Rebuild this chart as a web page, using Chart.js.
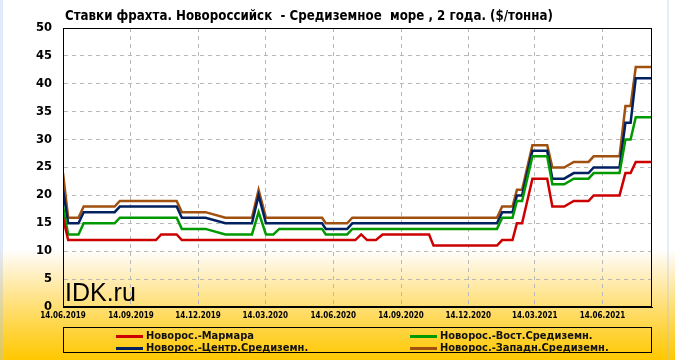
<!DOCTYPE html>
<html><head><meta charset="utf-8">
<script src="https://cdn.jsdelivr.net/npm/chart.js@4.4.1/dist/chart.umd.min.js"></script>
<style>
html,body{margin:0;padding:0;}
body{width:675px;height:360px;position:relative;overflow:hidden;
background:linear-gradient(to bottom,#ffffff 0px,#ffffff 250px,#fff4d6 266px,#ffe592 294px,#ffd64a 325px,#ffc800 360px);}
#lstrip{position:absolute;left:0;top:0;width:3px;height:360px;background:rgba(170,195,235,0.35);}
#rstrip{position:absolute;left:667px;top:0;width:2px;height:360px;background:rgba(170,195,235,0.3);}
#c{position:absolute;left:0;top:0;}
#title{position:absolute;left:65px;top:8px;font:bold 13.2px/16px "DejaVu Sans Condensed","DejaVu Sans",sans-serif;color:#000;white-space:pre;}
#wm{position:absolute;left:65px;top:280px;font:25px/25px "Liberation Sans",Arial,sans-serif;color:#000;}
#legend{position:absolute;left:63px;top:327px;width:589px;height:26px;box-sizing:border-box;border:1px solid #000;}
.li{position:absolute;height:12px;font:bold 11px/12px "DejaVu Sans Condensed","DejaVu Sans",sans-serif;color:#111;white-space:nowrap;}
.li i{position:absolute;left:0;top:5px;width:27px;height:3px;}
.li span{position:absolute;left:30px;top:0;}
</style>
</head><body>
<div id="lstrip"></div><div id="rstrip"></div>
<canvas id="c" width="675" height="360"></canvas>
<div id="title"></div>
<div id="wm">IDK.ru</div>
<div id="legend"></div>
<script>
const chartTitle = 'Ставки фрахта. Новороссийск  - Средиземное  море , 2 года. ($/тонна)';
const dates = ['14.06.2019','21.06.2019','05.07.2019','12.07.2019','23.08.2019','30.08.2019','18.10.2019','25.10.2019','15.11.2019','22.11.2019','24.12.2019','20.01.2020','25.02.2020','05.03.2020','15.03.2020','25.03.2020','02.04.2020','30.05.2020','04.06.2020','03.07.2020','10.07.2020','14.07.2020','22.07.2020','30.07.2020','11.08.2020','20.08.2020','22.10.2020','28.10.2020','22.01.2021','29.01.2021','12.02.2021','18.02.2021','25.02.2021','11.03.2021','31.03.2021','07.04.2021','23.04.2021','06.05.2021','26.05.2021','02.06.2021','07.07.2021','15.07.2021','22.07.2021','29.07.2021','19.08.2021'];
const marmara  = [16,12,12,12,12,12,12,13,13,12,12,12,12,12,12,12,12,12,12,12,12,12,13,12,12,13,13,11,11,12,12,15,15,23,23,18,18,19,19,20,20,24,24,26,26];
const vostMed  = [18,13,13,15,15,16,16,16,16,14,14,13,13,17,13,13,14,14,13,13,14,14,14,14,14,14,14,14,14,16,16,19,19,27,27,22,22,23,23,24,24,30,30,34,34];
const centrMed = [21,15,15,17,17,18,18,18,18,16,16,15,15,20,15,15,15,15,14,14,15,15,15,15,15,15,15,15,15,17,17,20,20,28,28,23,23,24,24,25,25,33,33,41,41];
const zapadMed = [24,16,16,18,18,19,19,19,19,17,17,16,16,21,16,16,16,16,15,15,16,16,16,16,16,16,16,16,16,18,18,21,21,29,29,25,25,26,26,27,27,36,36,43,43];
const seriesLabels = ['Новорос.-Мармара','Новорос.-Вост.Средиземн.','Новорос.-Центр.Средиземн.','Новорос.-Западн.Средиземн.'];
const seriesColors = ['#cc0000','#009900','#002060','#a0500f'];
const xTickLabels = ['14.06.2019','14.09.2019','14.12.2019','14.03.2020','14.06.2020','14.09.2020','14.12.2020','14.03.2021','14.06.2021'];
const xAxisEnd = '20.08.2021';
const yTickValues = [0,5,10,15,20,25,30,35,40,45,50];

function dayOf(s){const p=s.split('.').map(Number);return (Date.UTC(p[2],p[1]-1,p[0])-Date.UTC(2019,5,14))/86400000;}
const xs = dates.map(dayOf);
const xTickValues = xTickLabels.map(dayOf);
const seriesValues = [marmara, vostMed, centrMed, zapadMed];

document.getElementById('title').textContent = chartTitle;
const lg = document.getElementById('legend');
const legendPos = [[52,2],[346,2],[52,14],[346,14]];
seriesLabels.forEach((l,i)=>{
  const d=document.createElement('div');d.className='li';
  d.style.left=legendPos[i][0]+'px';d.style.top=legendPos[i][1]+'px';
  d.innerHTML='<i style="background:'+seriesColors[i]+'"></i><span></span>';
  d.querySelector('span').textContent=l;lg.appendChild(d);
});

const frame = {id:'frame',afterDraw(ch){const a=ch.chartArea,c=ch.ctx;c.save();c.strokeStyle='#000';c.lineWidth=1;
  c.strokeRect(Math.round(a.left)+0.5,Math.round(a.top)+0.5,Math.round(a.right-a.left)-1,Math.round(a.bottom-a.top)-1);c.restore();}};

const grid = {color:'#b8b8b8',lineWidth:1,drawTicks:false};
new Chart(document.getElementById('c'),{
  type:'line',
  data:{datasets:seriesLabels.map((l,i)=>({label:l,data:xs.map((x,j)=>({x:x,y:seriesValues[i][j]})),
    borderColor:seriesColors[i],backgroundColor:seriesColors[i],borderWidth:2.5,pointRadius:0,tension:0,fill:false}))},
  options:{responsive:false,animation:false,events:[],
    layout:{padding:{left:0,right:23,top:28,bottom:0}},
    plugins:{legend:{display:false},title:{display:false},tooltip:{enabled:false}},
    scales:{
      x:{type:'linear',min:0,max:dayOf(xAxisEnd),
        afterBuildTicks(s){s.ticks=xTickValues.map(v=>({value:v}));},
        afterFit(s){s.height=53;},
        ticks:{autoSkip:false,maxRotation:0,padding:4,color:'#000',font:{family:'"DejaVu Sans Condensed","DejaVu Sans"',size:8,weight:'bold'},
          callback(v){const k=xTickValues.indexOf(v);return k>=0?xTickLabels[k]:'';}},
        grid:Object.assign({},grid,{borderDash:[4,4]}),border:{display:true,color:'#000',dash:[4,4]}},
      y:{min:0,max:50,
        afterBuildTicks(s){s.ticks=yTickValues.map(v=>({value:v}));},
        afterFit(s){s.width=63;},
        ticks:{padding:11,color:'#000',font:{family:'"DejaVu Sans"',size:11.5,weight:'bold'}},
        grid:grid,border:{display:true,color:'#000',dash:[4,4]}}
    }},
  plugins:[frame]
});
</script>
</body></html>
